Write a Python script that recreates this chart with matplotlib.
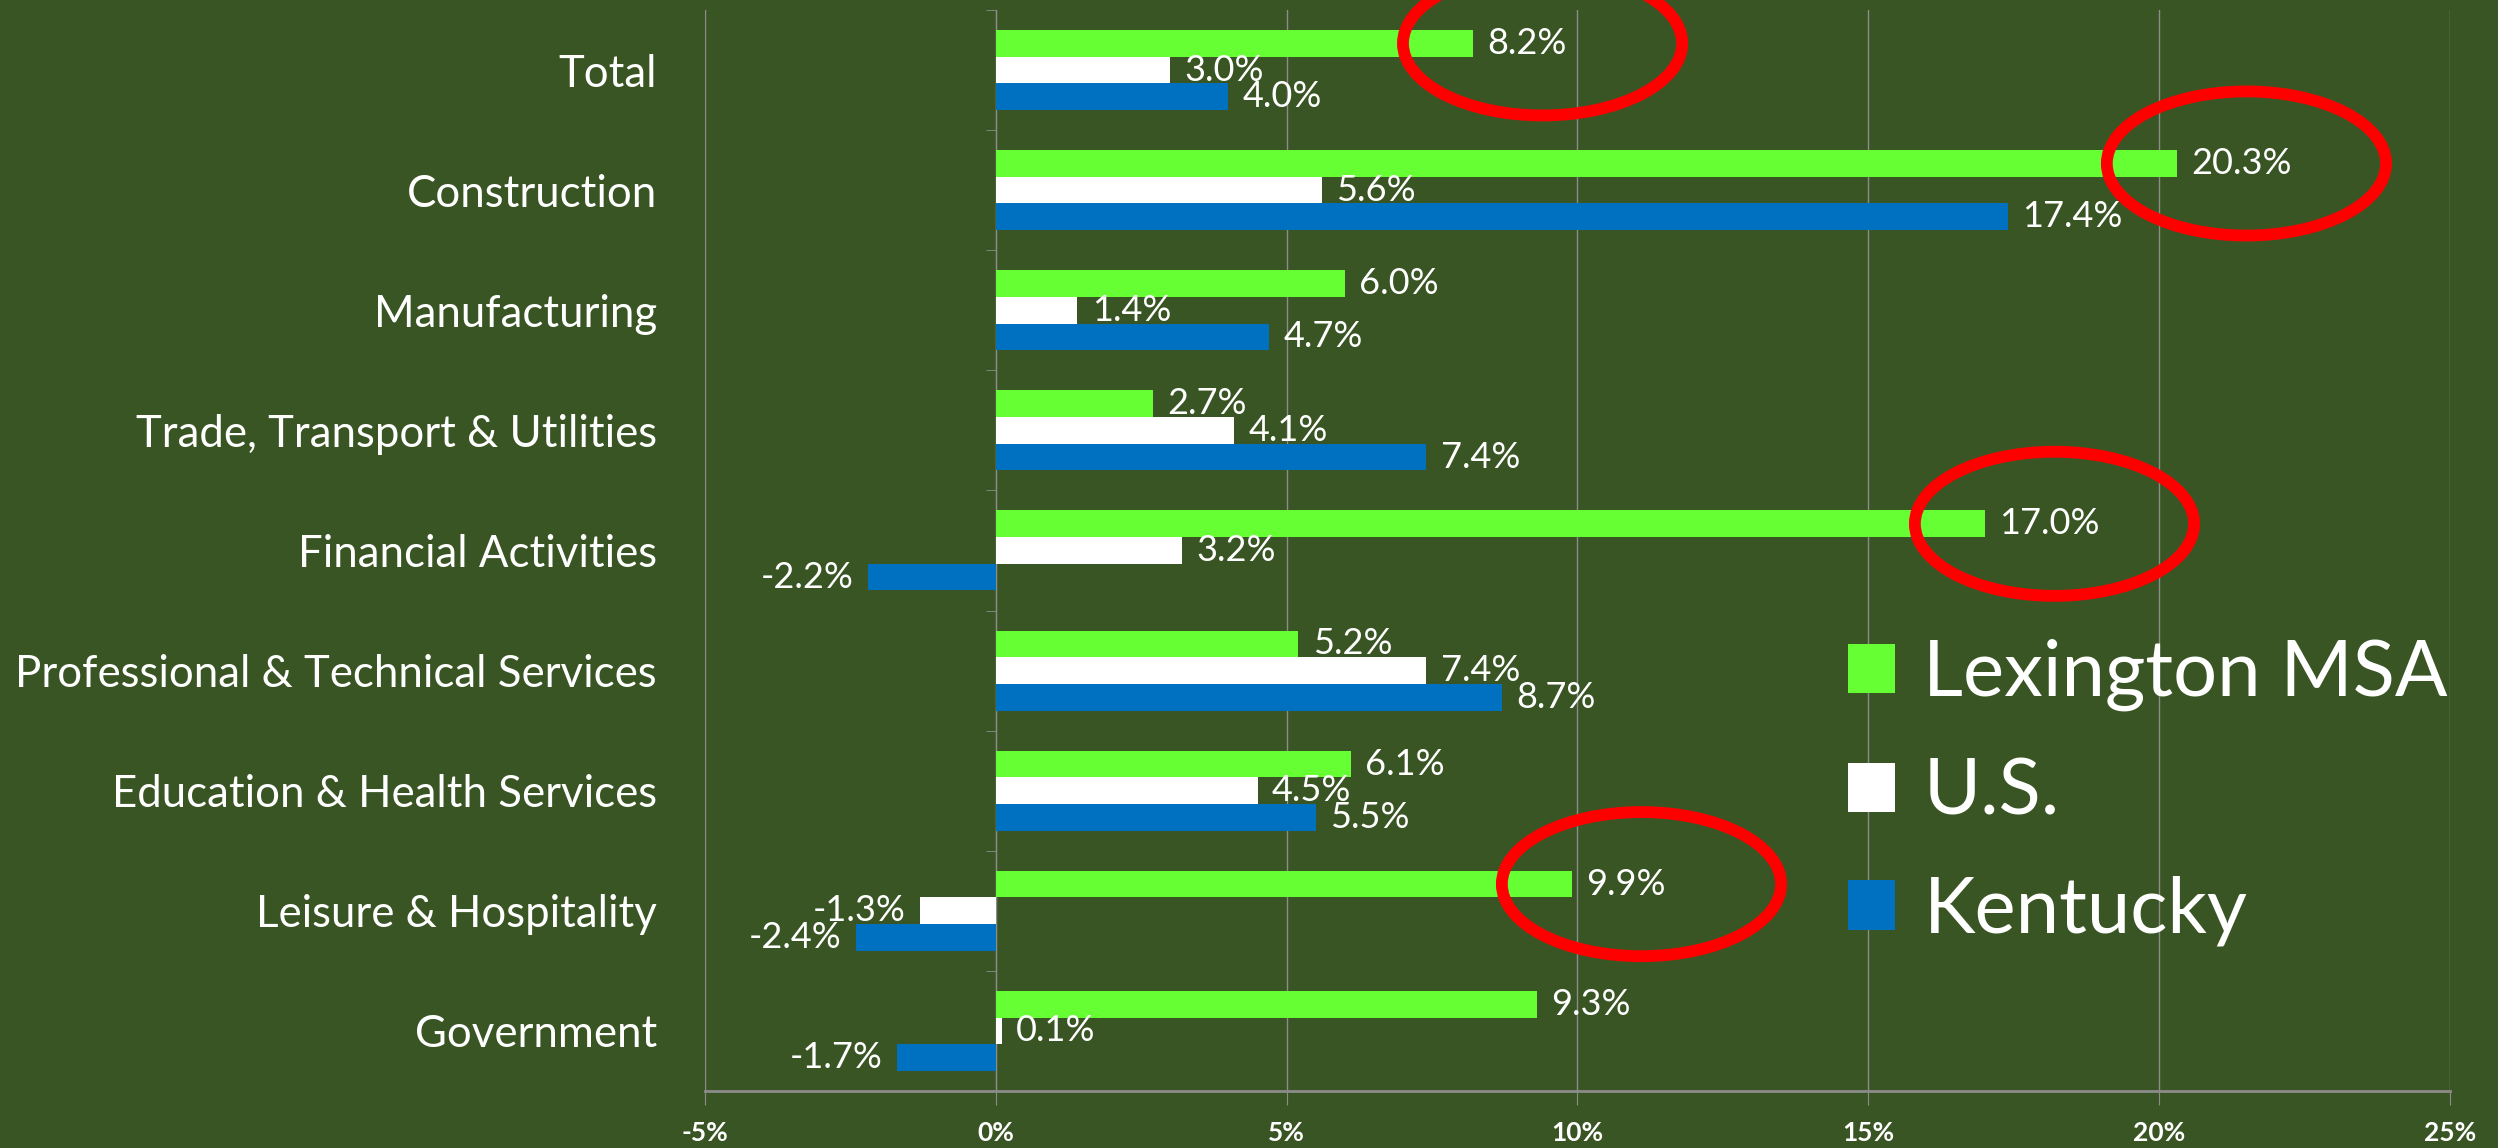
import matplotlib.pyplot as plt
import numpy as np
from matplotlib.patches import Ellipse
from matplotlib.ticker import FuncFormatter

plt.rcParams['font.family'] = ['Lato', 'DejaVu Sans']

categories = ["Total", "Construction", "Manufacturing", "Trade, Transport & Utilities",
              "Financial Activities", "Professional & Technical Services",
              "Education & Health Services", "Leisure & Hospitality", "Government"]
lexington = [8.2, 20.3, 6.0, 2.7, 17.0, 5.2, 6.1, 9.9, 9.3]
us = [3.0, 5.6, 1.4, 4.1, 3.2, 7.4, 4.5, -1.3, 0.1]
kentucky = [4.0, 17.4, 4.7, 7.4, -2.2, 8.7, 5.5, -2.4, -1.7]
series_names = ["Lexington MSA", "U.S.", "Kentucky"]
colors = ["#66FF33", "#FFFFFF", "#0070C0"]
# categories circled in red on the original slide
highlighted = ["Total", "Construction", "Financial Activities", "Leisure & Hospitality"]

bg = "#3A5524"
grid_col = "#8C8C8C"

fig = plt.figure(figsize=(24.98, 11.48), dpi=100, facecolor=bg)
ax = fig.add_axes([0.2822, 0.0497, 0.6986, 0.9416], facecolor=bg)

y = np.arange(len(categories))
h = 0.222
offsets = [-h, 0, h]
all_series = [lexington, us, kentucky]

for vals, off, col, name in zip(all_series, offsets, colors, series_names):
    bars = ax.barh(y + off, vals, height=h, color=col, label=name, zorder=3)
    for b, v in zip(bars, vals):
        if v >= 0:
            ax.text(v + 0.25, b.get_y() + h / 2, f"{v:.1f}%", ha="left", va="center",
                    color="white", fontsize=26, zorder=5)
        else:
            ax.text(v - 0.25, b.get_y() + h / 2, f"{v:.1f}%", ha="right", va="center",
                    color="white", fontsize=26, zorder=5)

# red circles around the Lexington values
for cat in highlighted:
    i = categories.index(cat)
    v = lexington[i]
    ax.add_patch(Ellipse((v + 1.2, i - h), width=4.8, height=1.2, fill=False,
                         edgecolor="#FF0000", lw=8.5, zorder=6, clip_on=False))

ax.set_xlim(-5, 25)
ax.set_ylim(len(categories) - 0.5, -0.5)
ax.set_xticks(np.arange(-5, 26, 5))
ax.xaxis.set_major_formatter(FuncFormatter(lambda x, p: f"{x:.0f}%"))
ax.grid(axis="x", color=grid_col, lw=1, zorder=0)

ax.set_yticks(y)
ax.set_yticklabels(categories)
ax.set_yticks(np.arange(-0.5, len(categories), 1), minor=True)

for s in ["top", "right"]:
    ax.spines[s].set_visible(False)
ax.spines["left"].set_position(("data", 0))
ax.spines["left"].set_color(grid_col)
ax.spines["bottom"].set_color(grid_col)
ax.spines["bottom"].set_linewidth(2)

ax.tick_params(axis="y", which="major", length=0, pad=244, labelsize=31.5, labelcolor="white")
ax.tick_params(axis="y", which="minor", length=7, color=grid_col, direction="out")
ax.tick_params(axis="x", length=10, color=grid_col, pad=12, labelsize=19, labelcolor="white")
for t in ax.get_xticklabels():
    t.set_fontweight("bold")

leg = ax.legend(loc="center left", bbox_to_anchor=(0.655, 0.276), frameon=False,
                fontsize=56, labelcolor="white", handlelength=0.6, handleheight=0.6,
                handletextpad=0.37, labelspacing=0.6, borderpad=0, borderaxespad=0)

fig.savefig("out.png", dpi=100, facecolor=bg)
